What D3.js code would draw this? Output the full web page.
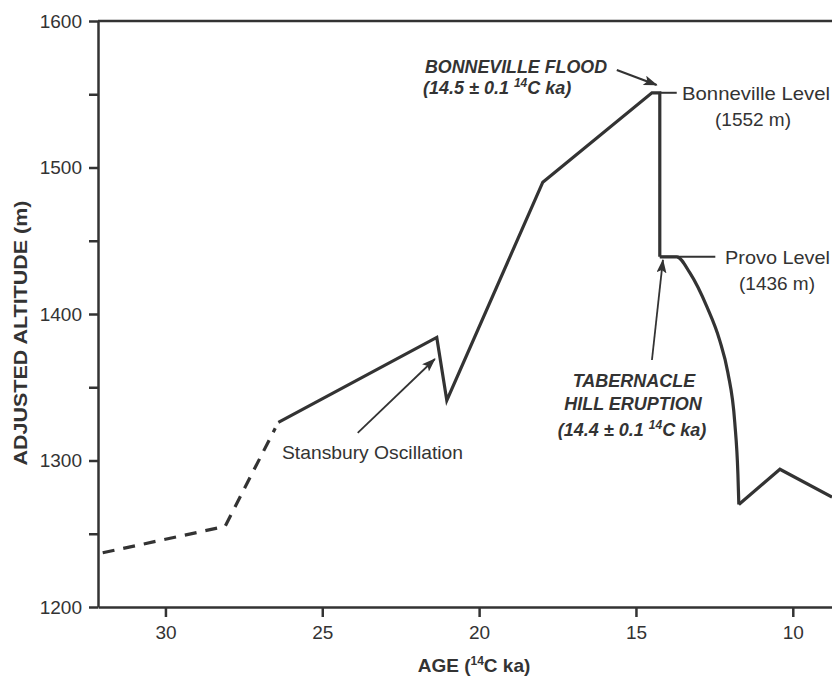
<!DOCTYPE html>
<html>
<head>
<meta charset="utf-8">
<script src="https://cdn.jsdelivr.net/npm/d3@7"></script>
<style>
  html, body { margin: 0; padding: 0; background: #fff; }
  svg { display: block; }
  text { font-family: "Liberation Sans", Arial, Helvetica, sans-serif; fill: #333; }
</style>
</head>
<body>
<div id="chart"></div>
<script>
// Lake level record (age in 14C ka, adjusted altitude in m)
const dashedAge = [32.0, 28.1, 26.5];
const dashedAlt = [1237, 1255, 1322];

const riseAge = [26.4, 21.35, 21.03, 17.97, 14.49, 14.24, 14.24];
const riseAlt = [1326, 1384, 1341, 1490, 1551, 1551, 1439];

const provoAge = [14.24, 13.70, 13.28, 12.74, 12.33, 12.07, 11.85, 11.75, 11.72];
const provoAlt = [1439, 1439, 1428, 1405, 1382, 1360, 1326, 1291, 1270];

const lateAge = [11.72, 10.41, 8.75];
const lateAlt = [1270, 1294, 1275];

const xTicks = [30, 25, 20, 15, 10];
const yTicks = [1200, 1250, 1300, 1350, 1400, 1450, 1500, 1550, 1600];
const yLabels = [1200, 1300, 1400, 1500, 1600];

const W = 832, H = 678;
const INK = "#333";

const x = d3.scaleLinear().domain([32.15, 8.75]).range([98, 832]);
const y = d3.scaleLinear().domain([1200, 1600]).range([607, 21]);

const svg = d3.select("#chart").append("svg")
  .attr("width", W).attr("height", H)
  .attr("viewBox", `0 0 ${W} ${H}`);

svg.append("rect").attr("width", W).attr("height", H).attr("fill", "#fff");

// Arrowhead
svg.append("defs").append("marker")
  .attr("id", "arrow")
  .attr("markerUnits", "userSpaceOnUse")
  .attr("viewBox", "0 0 14 10")
  .attr("refX", 13).attr("refY", 5)
  .attr("markerWidth", 15).attr("markerHeight", 10)
  .attr("orient", "auto")
  .append("path")
  .attr("d", "M0,0 L14,5 L0,10 L3,5 Z")
  .attr("fill", INK);

// Axes
const yAxis = d3.axisLeft(y)
  .tickValues(yTicks)
  .tickSize(9)
  .tickSizeOuter(0)
  .tickPadding(7)
  .tickFormat(d => yLabels.includes(d) ? d : "");

const gy = svg.append("g")
  .attr("transform", `translate(${x.range()[0]},0)`)
  .call(yAxis);

const xAxis = d3.axisBottom(x)
  .tickValues(xTicks)
  .tickSize(10)
  .tickSizeOuter(0)
  .tickPadding(9);

const gx = svg.append("g")
  .attr("transform", `translate(0,${y.range()[0]})`)
  .call(xAxis);

[gx, gy].forEach(g => {
  g.select(".domain").attr("stroke", INK).attr("stroke-width", 2.5);
  g.selectAll(".tick line").attr("stroke", INK).attr("stroke-width", 2.5);
  g.selectAll(".tick text")
    .attr("font-size", 19)
    .attr("font-family", null)
    .attr("fill", "#3a3a3a");
});

// Top frame line
svg.append("line")
  .attr("x1", x.range()[0]).attr("x2", x.range()[1])
  .attr("y1", y(1600)).attr("y2", y(1600))
  .attr("stroke", INK).attr("stroke-width", 2.5);

// Axis titles
svg.append("text")
  .attr("transform", `translate(27,${(y(1200) + y(1600)) / 2 + 19}) rotate(-90)`)
  .attr("text-anchor", "middle")
  .attr("font-size", 19)
  .attr("font-weight", "bold")
  .attr("textLength", 265)
  .attr("lengthAdjust", "spacingAndGlyphs")
  .text("ADJUSTED ALTITUDE (m)");

const xt = svg.append("text")
  .attr("x", 474).attr("y", 672)
  .attr("text-anchor", "middle")
  .attr("font-size", 19)
  .attr("font-weight", "bold");
xt.append("tspan").text("AGE (");
xt.append("tspan").attr("font-size", 12).attr("dy", -7).text("14");
xt.append("tspan").attr("dy", 7).text("C ka)");

// Data lines
const pts = (a, b) => a.map((d, i) => [d, b[i]]);
const line = d3.line().x(d => x(d[0])).y(d => y(d[1]));

svg.append("path")
  .datum(pts(dashedAge, dashedAlt))
  .attr("d", line)
  .attr("fill", "none")
  .attr("stroke", INK)
  .attr("stroke-width", 3.2)
  .attr("stroke-dasharray", "12,9");

svg.append("path")
  .datum(pts(riseAge, riseAlt))
  .attr("d", line)
  .attr("fill", "none")
  .attr("stroke", INK)
  .attr("stroke-width", 3.2)
  .attr("stroke-linejoin", "miter");

svg.append("path")
  .datum(pts(provoAge, provoAlt))
  .attr("d", line.curve(d3.curveMonotoneX))
  .attr("fill", "none")
  .attr("stroke", INK)
  .attr("stroke-width", 3.2);

svg.append("path")
  .datum(pts(lateAge, lateAlt))
  .attr("d", d3.line().x(d => x(d[0])).y(d => y(d[1])))
  .attr("fill", "none")
  .attr("stroke", INK)
  .attr("stroke-width", 3.2)
  .attr("stroke-linejoin", "miter");

// Level leader lines
svg.append("line")
  .attr("x1", x(14.24)).attr("x2", x(13.70))
  .attr("y1", y(1551)).attr("y2", y(1551))
  .attr("stroke", INK).attr("stroke-width", 2);

svg.append("line")
  .attr("x1", x(14.24)).attr("x2", x(12.47))
  .attr("y1", y(1439)).attr("y2", y(1439))
  .attr("stroke", INK).attr("stroke-width", 2);

// Arrows
const arrow = (a0, h0, a1, h1, w) => svg.append("line")
  .attr("x1", x(a0)).attr("y1", y(h0))
  .attr("x2", x(a1)).attr("y2", y(h1))
  .attr("stroke", INK).attr("stroke-width", w)
  .attr("marker-end", "url(#arrow)");

arrow(15.61, 1566.6, 14.34, 1556.3, 2.2);
arrow(23.87, 1318.8, 21.41, 1369.3, 1.8);
arrow(14.49, 1368.6, 14.14, 1436.9, 1.8);

// Labels
const label = (tx, ty, str, opts = {}) => {
  const t = svg.append("text")
    .attr("x", tx).attr("y", ty)
    .attr("font-size", opts.size || 19)
    .attr("text-anchor", opts.anchor || "start");
  if (opts.bold) t.attr("font-weight", "bold").attr("font-style", "italic");
  if (opts.len) t.attr("textLength", opts.len).attr("lengthAdjust", "spacingAndGlyphs");
  t.text(str);
  return t;
};

const ageLabel = (tx, ty, head, anchor) => {
  const t = svg.append("text")
    .attr("x", tx).attr("y", ty)
    .attr("font-size", 18)
    .attr("font-weight", "bold")
    .attr("font-style", "italic")
    .attr("text-anchor", anchor);
  t.append("tspan").text(head);
  t.append("tspan").attr("font-size", 12).attr("dy", -7).text("14");
  t.append("tspan").attr("dy", 7).text("C ka)");
};

label(425, 73, "BONNEVILLE FLOOD", { bold: true, size: 18, len: 182 });
ageLabel(423, 94, "(14.5 \u00b1 0.1 ", "start");

label(682, 100, "Bonneville Level", { len: 148 });
label(753, 126, "(1552 m)", { anchor: "middle" });

label(725, 264, "Provo Level", { len: 105 });
label(777, 290, "(1436 m)", { anchor: "middle" });

label(282, 459, "Stansbury Oscillation", { len: 181 });

label(634, 387, "TABERNACLE", { bold: true, size: 18, anchor: "middle" });
label(633, 410, "HILL ERUPTION", { bold: true, size: 18, anchor: "middle" });
ageLabel(632, 436, "(14.4 \u00b1 0.1 ", "middle");
</script>
</body>
</html>
